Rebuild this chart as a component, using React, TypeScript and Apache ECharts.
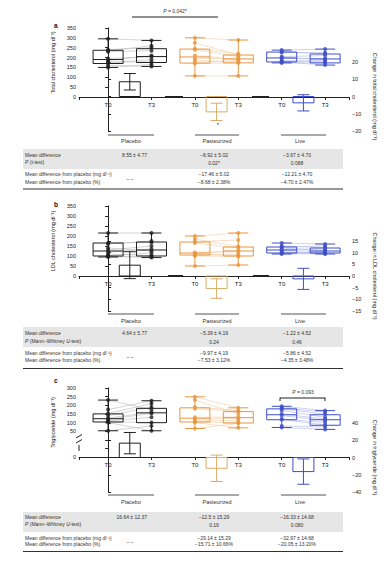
import React, { useEffect, useRef } from 'react';
import * as echarts from 'echarts';

// ---------------- data ----------------
const groups = ['Placebo', 'Pasteurized', 'Live'];
const xTickLabels = ['T0', 'T3'];
const groupColors = ['#1f1f1f', '#E8963F', '#3E4FC6'];
const linkColors = ['#b8b8b8', '#F2CBA3', '#AEB6EA'];
const diffColors = ['#1f1f1f', '#D8AC68', '#3E4FC6'];

// boxplots: [min, Q1, median, Q3, max] for T0 and T3 of each group
const aBoxT0 = [[150, 170, 190, 237, 295], [107, 172, 203, 243, 300], [173, 178, 198, 228, 238]];
const aBoxT3 = [[155, 175, 205, 245, 287], [107, 173, 193, 213, 289], [162, 173, 193, 218, 243]];
const aPtsT0 = [
  [295, 240, 235, 230, 195, 185, 178, 172, 160, 150],
  [300, 275, 245, 240, 210, 196, 185, 175, 170, 107],
  [238, 230, 226, 205, 200, 196, 185, 180, 178, 173],
];
const aPtsT3 = [
  [287, 250, 260, 235, 205, 210, 178, 190, 155, 165],
  [289, 213, 220, 205, 191, 195, 178, 185, 173, 107],
  [243, 218, 225, 210, 191, 195, 178, 185, 162, 173],
];
const aDiffMean = [8.55, -8.92, -3.67];
const aDiffSE = [4.77, 5.02, 4.70];

const bBoxT0 = [[95, 100, 125, 165, 215], [50, 105, 115, 170, 200], [110, 115, 130, 145, 165]];
const bBoxT3 = [[92, 100, 130, 170, 215], [55, 100, 125, 145, 215], [110, 115, 125, 140, 160]];
const bPtsT0 = [
  [215, 165, 160, 140, 130, 120, 110, 102, 100, 95],
  [200, 185, 172, 165, 118, 112, 108, 105, 100, 50],
  [165, 150, 146, 140, 133, 127, 120, 116, 114, 110],
];
const bPtsT3 = [
  [215, 168, 175, 125, 150, 135, 102, 115, 92, 98],
  [215, 148, 180, 140, 122, 128, 102, 110, 98, 55],
  [160, 142, 150, 127, 135, 123, 116, 118, 110, 113],
];
const bDiffMean = [4.64, -5.39, -1.22];
const bDiffSE = [5.77, 4.19, 4.52];

const cBoxT0 = [[52, 103, 122, 150, 230], [65, 103, 125, 185, 249], [71, 116, 145, 179, 194]];
const cBoxT3 = [[52, 99, 156, 182, 226], [69, 97, 128, 163, 185], [60, 84, 116, 145, 169]];
const cPtsT0 = [
  [230, 175, 152, 140, 125, 119, 110, 104, 100, 52],
  [249, 230, 190, 180, 130, 120, 110, 104, 100, 65],
  [194, 185, 180, 170, 150, 140, 120, 117, 80, 71],
];
const cPtsT3 = [
  [175, 226, 210, 190, 160, 152, 130, 100, 52, 80],
  [185, 150, 170, 165, 132, 124, 110, 98, 69, 95],
  [169, 160, 148, 130, 120, 112, 100, 86, 75, 60],
];
const cDiffMean = [16.64, -12.5, -16.33];
const cDiffSE = [12.37, 15.29, 14.68];

// tick labels
const abLeftTicks = [0, 50, 100, 150, 200, 250, 300, 350];
const cLeftTicks = [0, 50, 100, 150, 200, 250, 300];
const C_BREAK_SHIFT = 100; // "0" is drawn below the axis break

// tables
const aTable = {
  mean: ['8.55 ± 4.77', '−8.92 ± 5.02', '−3.67 ± 4.70'],
  p: ['', '0.02*', '0.088'],
  mg: ['– –', '−17.46 ± 5.02', '−12.21 ± 4.70'],
  pct: ['', '−8.68 ± 2.38%', '−4.70 ± 2.47%'],
  pLabel: '{i|P} (t-test)',
};
const bTable = {
  mean: ['4.64 ± 5.77', '−5.39 ± 4.19', '−1.22 ± 4.52'],
  p: ['', '0.24', '0.46'],
  mg: ['– –', '−9.97 ± 4.19', '−5.86 ± 4.52'],
  pct: ['', '−7.53 ± 3.12%', '−4.35 ± 3.48%'],
  pLabel: '{i|P} (Mann–Whitney {i|U}-test)',
};
const cTable = {
  mean: ['16.64 ± 12.37', '−12.5 ± 15.29', '−16.33 ± 14.68'],
  p: ['', '0.19', '0.080'],
  mg: ['– –', '−29.14 ± 15.29', '−32.97 ± 14.68'],
  pct: ['', '−15.71 ± 10.66%', '−20.05 ± 13.20%'],
  pLabel: '{i|P} (Mann–Whitney {i|U}-test)',
};

// ---------------- layout ----------------
const FONT = '"Liberation Sans", Arial, Helvetica, sans-serif';
const X_MIN = -1.34;
const X_MAX = 11.1;
const GRID_LEFT = 79;
const GRID_W = 270;

const layouts = [
  { aTop: 28, aH: 69, bTop: 62, bH: 69, letterY: 25, brY: 135, headY: 141, grayTop: 149, rows: [154.5, 162, 174, 181.5], lineY: 189 },
  { aTop: 206, aH: 70, bTop: 241, bH: 70, letterY: 204, brY: 314, headY: 321, grayTop: 327, rows: [333, 341, 353, 359.5], lineY: 368.5 },
  { aTop: 388, aH: 69, bTop: 423, bH: 69, letterY: 380, brY: 495, headY: 502, grayTop: 512, rows: [517, 524, 537.5, 544], lineY: 551.5 },
];
const colLines = [[108, 154], [195, 239], [281, 326]];
const headX = [131, 217, 300];

const panels = [
  { box0: aBoxT0, box3: aBoxT3, pts0: aPtsT0, pts3: aPtsT3, mean: aDiffMean, se: aDiffSE, table: aTable, letter: 'a',
    leftName: 'Total cholesterol (mg dl⁻¹)', rightName: 'Change in total cholesterol (mg dl⁻¹)', rMin: -20, rMax: 20, rInt: 10 },
  { box0: bBoxT0, box3: bBoxT3, pts0: bPtsT0, pts3: bPtsT3, mean: bDiffMean, se: bDiffSE, table: bTable, letter: 'b',
    leftName: 'LDL cholesterol (mg dl⁻¹)', rightName: 'Change in LDL cholesterol (mg dl⁻¹)', rMin: -15, rMax: 15, rInt: 5 },
  { box0: cBoxT0, box3: cBoxT3, pts0: cPtsT0, pts3: cPtsT3, mean: cDiffMean, se: cDiffSE, table: cTable, letter: 'c',
    leftName: 'Triglyceride (mg dl⁻¹)', rightName: 'Change in triglyceride (mg dl⁻¹)', rMin: -40, rMax: 40, rInt: 20 },
];

const posT0 = (g: number) => 4 * g;
const posDiff = (g: number) => 4 * g + 1;
const posT3 = (g: number) => 4 * g + 2;

const minus = (v: number) => String(v).replace('-', '−');

function xLabel(v: number) {
  const r = Math.round(v);
  if (Math.abs(v - r) > 1e-6 || r < 0 || r % 2 !== 0) return '';
  return xTickLabels[(r / 2) % 2];
}

function txt(x: number, y: number, text: string, align = 'left', extra: any = {}) {
  const fs = extra.fontSize || 5;
  return {
    type: 'text', x, y, z: 60,
    style: {
      text, fontSize: fs, fontFamily: FONT, fill: '#333',
      align, textAlign: align, verticalAlign: 'middle', textVerticalAlign: 'middle',
      rich: { i: { fontStyle: 'italic', fontSize: fs, fontFamily: FONT, fill: '#333' } },
      ...extra,
    },
  };
}
function ln(x1: number, y1: number, x2: number, y2: number, stroke = '#444', lineWidth = 1) {
  return { type: 'line', z: 60, shape: { x1, y1, x2, y2 }, style: { stroke, lineWidth } };
}

function buildOption() {
  const grid: any[] = [];
  const xAxis: any[] = [];
  const yAxis: any[] = [];
  const series: any[] = [];
  const graphic: any[] = [];

  panels.forEach((p, pi) => {
    const L = layouts[pi];
    const gA = 2 * pi;
    const gB = 2 * pi + 1;
    grid.push({ left: GRID_LEFT, width: GRID_W, top: L.aTop, height: L.aH, outerBoundsMode: 'none' });
    grid.push({ left: GRID_LEFT, width: GRID_W, top: L.bTop, height: L.bH, outerBoundsMode: 'none' });

    xAxis.push({
      gridIndex: gA, type: 'value', min: X_MIN, max: X_MAX, splitNumber: 5,
      axisLine: { show: true, onZero: false, lineStyle: { color: '#222', width: 1 } },
      axisTick: { show: true, length: 3, lineStyle: { color: '#222' } },
      axisLabel: { show: true, fontSize: 6, color: '#222', fontFamily: FONT, margin: 5, formatter: xLabel },
      splitLine: { show: false },
    });
    xAxis.push({ gridIndex: gB, type: 'value', min: X_MIN, max: X_MAX, show: false });

    const isC = pi === 2;
    const leftCommon: any = {
      gridIndex: gA, type: 'value', position: 'left',
      name: p.leftName, nameLocation: 'middle', nameRotate: 90, nameGap: 17,
      nameTextStyle: { fontSize: 5.5, color: '#222', fontFamily: FONT },
      axisLine: { show: true, lineStyle: { color: '#222', width: 1 } },
      axisTick: { show: true, length: 3, lineStyle: { color: '#222' } },
      splitLine: { show: false },
    };
    if (!isC) {
      yAxis.push({
        ...leftCommon, min: abLeftTicks[0], max: abLeftTicks[abLeftTicks.length - 1], interval: 50,
        axisLabel: { fontSize: 5.5, color: '#222', fontFamily: FONT, margin: 3 },
      });
    } else {
      yAxis.push({
        ...leftCommon, min: -C_BREAK_SHIFT, max: cLeftTicks[cLeftTicks.length - 1], interval: 50,
        axisLabel: {
          fontSize: 5.5, color: '#222', fontFamily: FONT, margin: 3,
          formatter: (v: number) => (v === -C_BREAK_SHIFT ? String(cLeftTicks[0]) : cLeftTicks.indexOf(v) > 0 ? String(v) : ''),
        },
      });
    }
    yAxis.push({
      gridIndex: gB, type: 'value', position: 'right', min: p.rMin, max: p.rMax, interval: p.rInt,
      name: p.rightName, nameLocation: 'middle', nameRotate: -90, nameGap: 16,
      nameTextStyle: { fontSize: 5.5, color: '#222', fontFamily: FONT },
      axisLine: { show: true, lineStyle: { color: '#222', width: 1 } },
      axisTick: { show: true, length: 3, lineStyle: { color: '#222' } },
      axisLabel: { fontSize: 5.5, color: '#222', fontFamily: FONT, margin: 3, formatter: (v: number) => minus(v) },
      splitLine: { show: false },
    });

    // connecting lines
    const links: any[] = [];
    groups.forEach((_, g) => {
      p.pts0[g].forEach((v, k) => links.push([posT0(g), v, posT3(g), p.pts3[g][k], g]));
    });
    series.push({
      type: 'custom', xAxisIndex: gA, yAxisIndex: gA, data: links, z: 1,
      renderItem: (params: any, api: any) => {
        const a = api.coord([api.value(0), api.value(1)]);
        const b = api.coord([api.value(2), api.value(3)]);
        return { type: 'line', shape: { x1: a[0], y1: a[1], x2: b[0], y2: b[1] }, style: { stroke: linkColors[api.value(4)], lineWidth: 0.6 } };
      },
    });

    // boxplots
    const boxes: any[] = [];
    groups.forEach((_, g) => {
      boxes.push([posT0(g), ...p.box0[g], g]);
      boxes.push([posT3(g), ...p.box3[g], g]);
    });
    series.push({
      type: 'custom', xAxisIndex: gA, yAxisIndex: gA, data: boxes, z: 2,
      renderItem: (params: any, api: any) => {
        const x = api.value(0);
        const lo = api.coord([x, api.value(1)]);
        const q1 = api.coord([x, api.value(2)]);
        const md = api.coord([x, api.value(3)]);
        const q3 = api.coord([x, api.value(4)]);
        const hi = api.coord([x, api.value(5)]);
        const c = groupColors[api.value(6)];
        const hw = 15;
        const cw = 10;
        const st = { stroke: c, lineWidth: 1, fill: null };
        return {
          type: 'group',
          children: [
            { type: 'line', shape: { x1: lo[0], y1: lo[1], x2: q1[0], y2: q1[1] }, style: st },
            { type: 'line', shape: { x1: q3[0], y1: q3[1], x2: hi[0], y2: hi[1] }, style: st },
            { type: 'line', shape: { x1: lo[0] - cw, y1: lo[1], x2: lo[0] + cw, y2: lo[1] }, style: st },
            { type: 'line', shape: { x1: hi[0] - cw, y1: hi[1], x2: hi[0] + cw, y2: hi[1] }, style: st },
            { type: 'rect', shape: { x: q3[0] - hw, y: q3[1], width: 2 * hw, height: q1[1] - q3[1] }, style: { stroke: c, lineWidth: 1, fill: 'rgba(255,255,255,0)' } },
            { type: 'line', shape: { x1: md[0] - hw, y1: md[1], x2: md[0] + hw, y2: md[1] }, style: st },
          ],
        };
      },
    });

    // individual points
    const pts: any[] = [];
    groups.forEach((_, g) => {
      p.pts0[g].forEach((v) => pts.push({ value: [posT0(g), v], itemStyle: { color: groupColors[g] } }));
      p.pts3[g].forEach((v) => pts.push({ value: [posT3(g), v], itemStyle: { color: groupColors[g] } }));
    });
    series.push({ type: 'scatter', xAxisIndex: gA, yAxisIndex: gA, data: pts, symbolSize: 4, z: 3 });

    // mean difference bars with SE
    const diffs = groups.map((_, g) => [posDiff(g), p.mean[g], p.se[g], g]);
    series.push({
      type: 'custom', xAxisIndex: gB, yAxisIndex: gB, data: diffs, z: 4,
      renderItem: (params: any, api: any) => {
        const x = api.value(0);
        const m = api.value(1);
        const se = api.value(2);
        const c = diffColors[api.value(3)];
        const z0 = api.coord([x, 0]);
        const mm = api.coord([x, m]);
        const hi = api.coord([x, m + se]);
        const lo = api.coord([x, m - se]);
        const hw = 10.5;
        const cw = 6;
        const st = { stroke: c, lineWidth: 1 };
        return {
          type: 'group',
          children: [
            { type: 'rect', shape: { x: z0[0] - hw, y: Math.min(z0[1], mm[1]), width: 2 * hw, height: Math.abs(mm[1] - z0[1]) }, style: { stroke: c, lineWidth: 1, fill: 'rgba(255,255,255,0)' } },
            { type: 'line', shape: { x1: hi[0], y1: hi[1], x2: lo[0], y2: lo[1] }, style: st },
            { type: 'line', shape: { x1: hi[0] - cw, y1: hi[1], x2: hi[0] + cw, y2: hi[1] }, style: st },
            { type: 'line', shape: { x1: lo[0] - cw, y1: lo[1], x2: lo[0] + cw, y2: lo[1] }, style: st },
          ],
        };
      },
    });

    // ----- panel letter -----
    graphic.push(txt(54, L.letterY, p.letter, 'left', { fontSize: 6.5, fontWeight: 'bold', fill: '#111' }));

    // ----- group brackets + headers -----
    groups.forEach((name, g) => {
      graphic.push(ln(colLines[g][0], L.brY, colLines[g][1], L.brY, '#555', 1));
      graphic.push(txt(headX[g], L.headY, name, 'center', { fontSize: 5.5 }));
    });

    // ----- table -----
    graphic.push({ type: 'rect', z: 50, shape: { x: 23, y: L.grayTop, width: 320, height: 20 }, style: { fill: '#e6e6e6' } });
    const t = p.table;
    const r = L.rows;
    graphic.push(txt(25, r[0], 'Mean difference'));
    graphic.push(txt(25, r[1], t.pLabel));
    graphic.push(txt(25, r[2], 'Mean difference from placebo (mg dl⁻¹)'));
    graphic.push(txt(25, r[3], 'Mean difference from placebo (%)'));
    graphic.push(txt(147, r[0], t.mean[0], 'right'));
    graphic.push(txt(130, (r[2] + r[3]) / 2 + 1, t.mg[0], 'center'));
    [214, 297].forEach((cx, k) => {
      const g = k + 1;
      graphic.push(txt(cx, r[0], t.mean[g], 'center'));
      graphic.push(txt(cx, r[1] + 1, t.p[g], 'center'));
      graphic.push(txt(cx, r[2], t.mg[g], 'center'));
      graphic.push(txt(cx, r[3], t.pct[g], 'center'));
    });
    graphic.push(ln(23, L.lineY, 343, L.lineY, '#333', 1.2));
  });

  // annotations
  graphic.push(ln(132, 17, 218, 17, '#222', 1));
  graphic.push(txt(175, 11, '{i|P} = 0.042*', 'center', { fontSize: 5 }));
  graphic.push(txt(218, 125, '*', 'center', { fontSize: 6 }));
  graphic.push(ln(280, 398, 325, 398, '#222', 1));
  graphic.push(ln(280, 397.5, 280, 401, '#222', 1));
  graphic.push(ln(325, 397.5, 325, 401, '#222', 1));
  graphic.push(txt(303, 392, '{i|P} = 0.093', 'center', { fontSize: 5 }));
  // thick baseline segments
  graphic.push(ln(165, 97, 183, 97, '#222', 2));
  graphic.push(ln(252, 97, 269, 97, '#222', 2));
  graphic.push(ln(168, 276, 183, 276, '#222', 2));
  graphic.push(ln(253, 276, 269, 276, '#222', 2));
  // axis break on panel c (covers the unused ticks inside the break)
  graphic.push({ type: 'rect', z: 70, shape: { x: 74, y: 435, width: 9, height: 15 }, style: { fill: '#fff' } });
  graphic.push({ ...ln(79, 445, 79, 451, '#222', 1), z: 71 });
  graphic.push({ ...ln(76, 438, 82, 434.5, '#222', 1), z: 71 });
  graphic.push({ ...ln(76, 443, 82, 439.5, '#222', 1), z: 71 });

  return {
    animation: false,
    backgroundColor: '#ffffff',
    textStyle: { fontFamily: FONT },
    grid, xAxis, yAxis, series, graphic,
  };
}

export default function App() {
  const ref = useRef<HTMLDivElement>(null);
  useEffect(() => {
    const chart = echarts.init(ref.current as HTMLDivElement, null, { renderer: 'svg' });
    chart.setOption(buildOption() as any);
    return () => chart.dispose();
  }, []);
  return (
    <div
      ref={ref}
      style={{ position: 'fixed', left: 0, top: 0, width: 386, height: 562, background: '#fff' }}
    />
  );
}
